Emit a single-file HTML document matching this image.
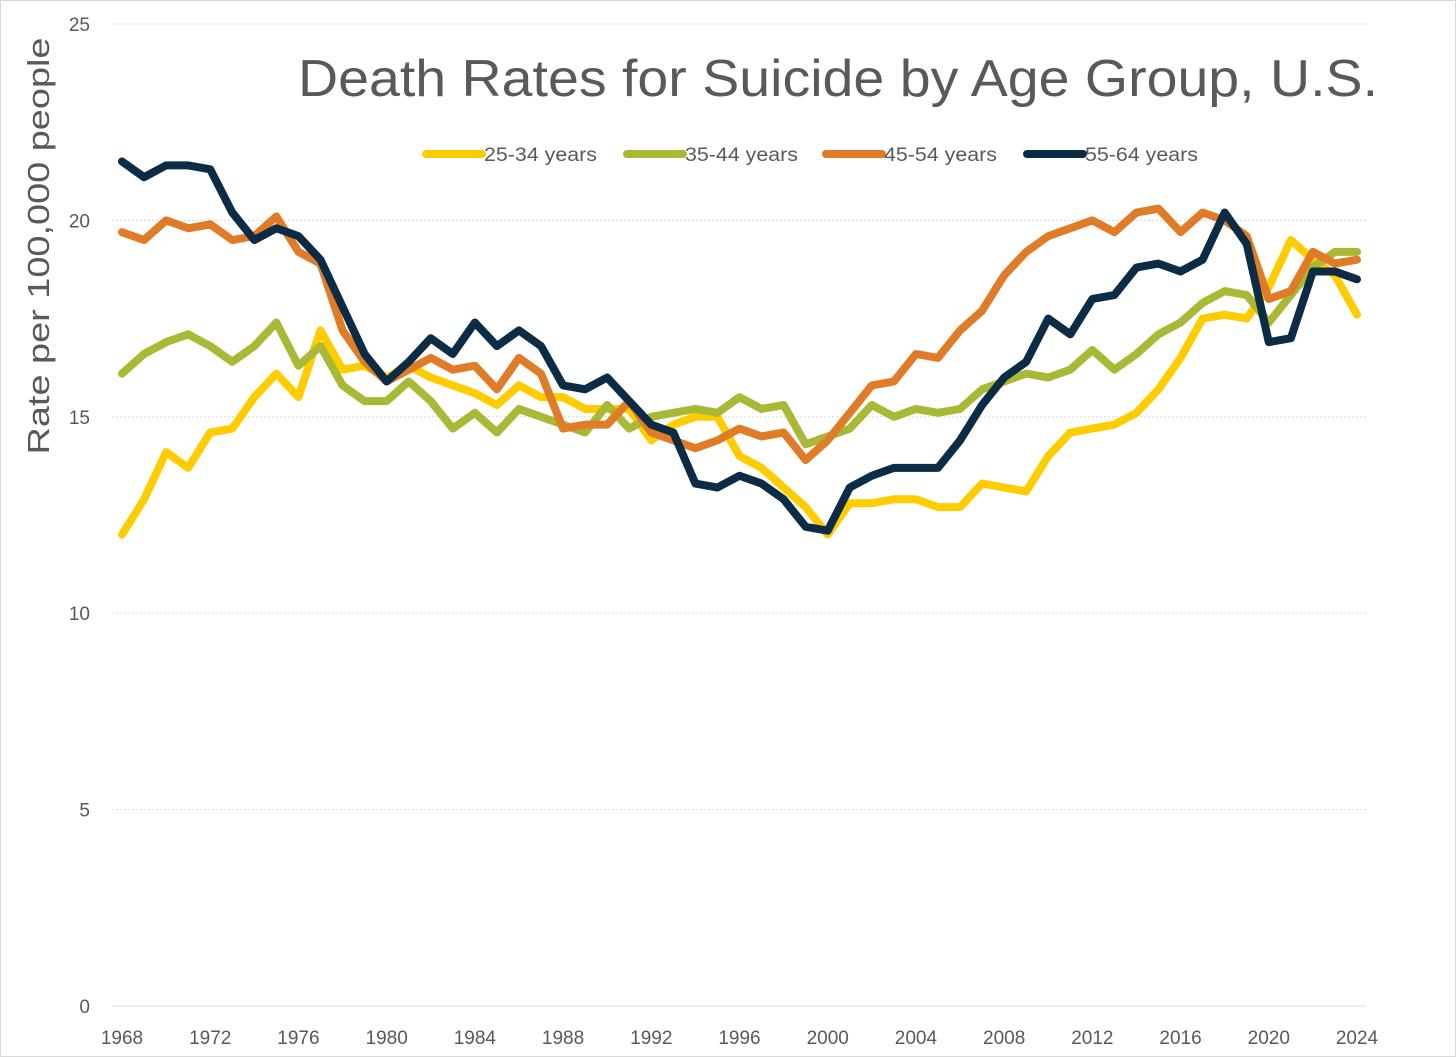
<!DOCTYPE html>
<html><head><meta charset="utf-8"><style>
html,body{margin:0;padding:0;background:#fff}
svg{display:block;font-family:"Liberation Sans",sans-serif}
</style></head><body>
<svg id="chart" width="1456" height="1057" viewBox="0 0 1456 1057" xmlns="http://www.w3.org/2000/svg">
<rect x="0.5" y="0.5" width="1455" height="1056" fill="#fff" stroke="#d9d9d9"/>
<g id="grid"></g><g id="axes"></g><g id="series"></g>
<text x="298" y="96" font-size="52" fill="#595959" textLength="1080" lengthAdjust="spacingAndGlyphs">Death Rates for Suicide by Age Group, U.S.</text>
<text transform="translate(49,246) rotate(-90)" text-anchor="middle" font-size="31" fill="#595959" textLength="417" lengthAdjust="spacingAndGlyphs">Rate per 100,000 people</text>
<g id="legend"></g>
</svg>
<script>
const years=[];for(let y=1968;y<=2024;y++)years.push(y);
const yTicks=[0,5,10,15,20,25];
const xTicks=[1968,1972,1976,1980,1984,1988,1992,1996,2000,2004,2008,2012,2016,2020,2024];
const seriesNames=["25-34 years","35-44 years","45-54 years","55-64 years"];
const seriesColors=["#ffcc00","#a9b936","#e07b28","#0b2c44"];
const s2534=[12.0,12.9,14.1,13.7,14.6,14.7,15.5,16.1,15.5,17.2,16.2,16.3,16.0,16.3,16.0,15.8,15.6,15.3,15.8,15.5,15.5,15.2,15.2,15.2,14.4,14.8,15.0,15.0,14.0,13.7,13.2,12.7,12.0,12.8,12.8,12.9,12.9,12.7,12.7,13.3,13.2,13.1,14.0,14.6,14.7,14.8,15.1,15.7,16.5,17.5,17.6,17.5,18.3,19.5,19.0,18.6,17.6];
const s3544=[16.1,16.6,16.9,17.1,16.8,16.4,16.8,17.4,16.3,16.8,15.8,15.4,15.4,15.9,15.4,14.7,15.1,14.6,15.2,15.0,14.8,14.6,15.3,14.7,15.0,15.1,15.2,15.1,15.5,15.2,15.3,14.3,14.5,14.7,15.3,15.0,15.2,15.1,15.2,15.7,15.9,16.1,16.0,16.2,16.7,16.2,16.6,17.1,17.4,17.9,18.2,18.1,17.4,18.1,18.8,19.2,19.2];
const s4554=[19.7,19.5,20.0,19.8,19.9,19.5,19.6,20.1,19.2,18.9,17.2,16.4,15.9,16.2,16.5,16.2,16.3,15.7,16.5,16.1,14.7,14.8,14.8,15.4,14.6,14.4,14.2,14.4,14.7,14.5,14.6,13.9,14.4,15.1,15.8,15.9,16.6,16.5,17.2,17.7,18.6,19.2,19.6,19.8,20.0,19.7,20.2,20.3,19.7,20.2,20.0,19.6,18.0,18.2,19.2,18.9,19.0];
const s5564=[21.5,21.1,21.4,21.4,21.3,20.2,19.5,19.8,19.6,19.0,17.8,16.6,15.9,16.4,17.0,16.6,17.4,16.8,17.2,16.8,15.8,15.7,16.0,15.4,14.8,14.6,13.3,13.2,13.5,13.3,12.9,12.2,12.1,13.2,13.5,13.7,13.7,13.7,14.4,15.3,16.0,16.4,17.5,17.1,18.0,18.1,18.8,18.9,18.7,19.0,20.2,19.4,16.9,17.0,18.7,18.7,18.5];
const allSeries=[s2534,s3544,s4554,s5564];
const NS="http://www.w3.org/2000/svg";
const X0=122,X1=1357,Y0=1006,Y1=24;
const xs=y=>X0+(y-1968)*(X1-X0)/56;
const ys=v=>Y0-v*(Y0-Y1)/25;
function mk(t,a,p){const e=document.createElementNS(NS,t);for(const k in a)e.setAttribute(k,a[k]);p.appendChild(e);return e;}
const grid=document.getElementById('grid'),axes=document.getElementById('axes'),ser=document.getElementById('series'),leg=document.getElementById('legend');
yTicks.forEach(v=>{
  const l=mk('line',{x1:112,x2:1366,y1:ys(v),y2:ys(v),stroke:'#d9d9d9','stroke-width':1,'stroke-dasharray':v===0?'':'2,2'},grid);
  
  
  const t=mk('text',{x:90,y:ys(v)+7,'text-anchor':'end','font-size':19,fill:'#595959'},axes);t.textContent=v;
  
  
});
xTicks.forEach(y=>{
  const t=mk('text',{x:xs(y),y:1044,'text-anchor':'middle','font-size':19,fill:'#595959'},axes);t.textContent=y;
  
  
});
allSeries.forEach((d,i)=>{
  const p=mk('polyline',{points:d.map((v,j)=>xs(years[j])+','+ys(v)).join(' '),fill:'none',stroke:seriesColors[i],'stroke-width':8,'stroke-linejoin':'round','stroke-linecap':'round'},ser);
  
  
});
const legX=[426,627,826,1027];
seriesNames.forEach((n,i)=>{
  const g=mk('g',{},leg);
  
  
  mk('line',{x1:legX[i],x2:legX[i]+56,y1:154,y2:154,stroke:seriesColors[i],'stroke-width':8,'stroke-linecap':'round'},g);
  const t=mk('text',{x:legX[i]+58,y:161,'font-size':19,fill:'#595959',textLength:113,lengthAdjust:'spacingAndGlyphs'},g);t.textContent=n;
});
</script>
</body></html>
